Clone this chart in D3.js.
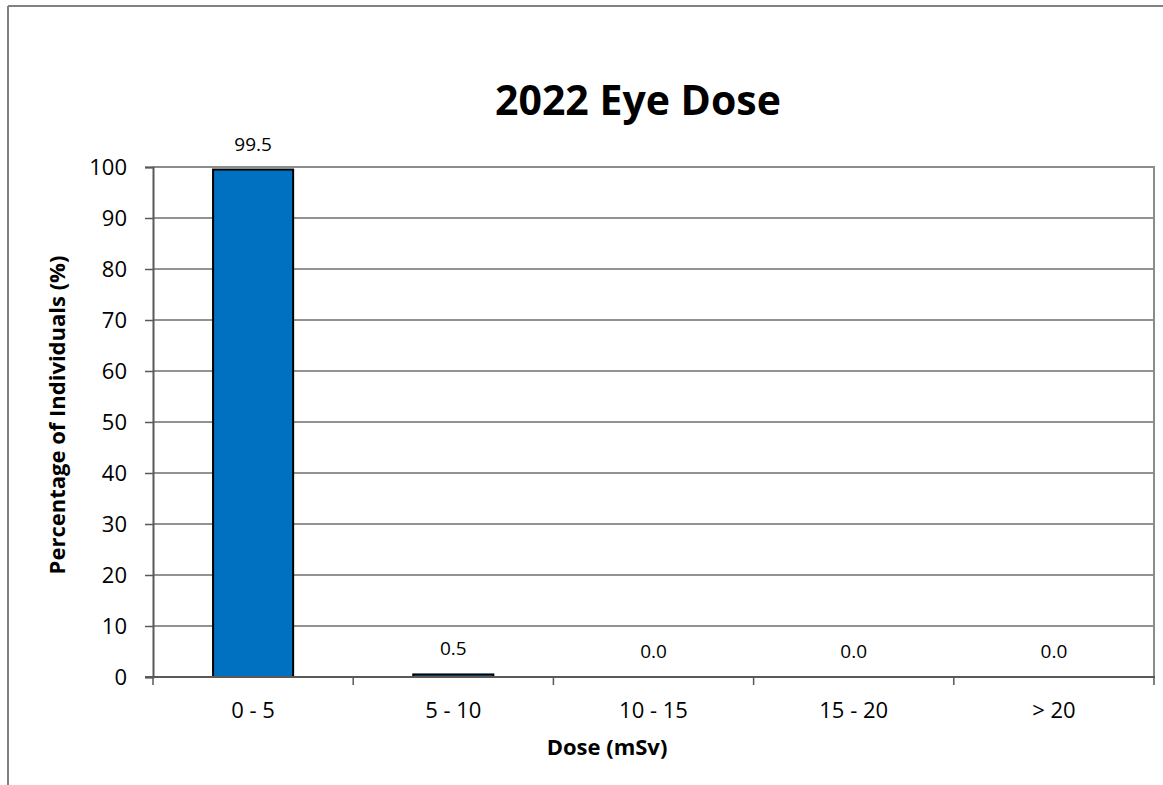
<!DOCTYPE html>
<html>
<head>
<meta charset="utf-8">
<script src="https://cdn.jsdelivr.net/npm/d3@7"></script>
<style>
  body { margin: 0; background: #fff; }
  text { font-family: "Open Sans", sans-serif; fill: #000; }
</style>
</head>
<body>
<svg width="1163" height="785"></svg>
<script>
var svg = d3.select("svg");

var categories = ["0 - 5", "5 - 10", "10 - 15", "15 - 20", "> 20"];
var percentages = [99.5, 0.5, 0.0, 0.0, 0.0];
var yTicks = [0, 10, 20, 30, 40, 50, 60, 70, 80, 90, 100];

// plot area
var margin = {top: 167, right: 9, bottom: 108, left: 153},
    width = +svg.attr("width") - margin.left - margin.right,
    height = +svg.attr("height") - margin.top - margin.bottom;

// outer chart frame (top + left edges only visible)
svg.append("line")
  .attr("x1", 8).attr("x2", 1163).attr("y1", 6).attr("y2", 6)
  .attr("stroke", "#595959").attr("stroke-width", 1.5);
svg.append("line")
  .attr("x1", 8).attr("x2", 8).attr("y1", 6).attr("y2", 785)
  .attr("stroke", "#808080").attr("stroke-width", 2);

var g = svg.append("g")
  .attr("transform", "translate(" + margin.left + "," + margin.top + ")");

var x = d3.scaleBand().domain(categories).range([0, width]).paddingInner(0.6).paddingOuter(0.3);
var xb = d3.scaleBand().domain(categories).range([0, width]);
var y = d3.scaleLinear().domain([0, 100]).range([height, 0]);

// gridlines
g.selectAll(".grid")
  .data(yTicks.slice(1, -1))
  .enter().append("line")
  .attr("class", "grid")
  .attr("x1", 0).attr("x2", width)
  .attr("y1", function(d) { return y(d); })
  .attr("y2", function(d) { return y(d); })
  .attr("stroke", "#262626").attr("stroke-width", 1);

// plot frame top + right
g.append("line").attr("x1", 0).attr("x2", width + 1).attr("y1", 0).attr("y2", 0)
  .attr("stroke", "#8c8c8c").attr("stroke-width", 2);
g.append("line").attr("x1", width).attr("x2", width).attr("y1", 0).attr("y2", height)
  .attr("stroke", "#8c8c8c").attr("stroke-width", 2);

// bars
g.selectAll(".bar")
  .data(percentages)
  .enter().append("rect")
  .attr("class", "bar")
  .attr("x", function(d, i) { return x(categories[i]); })
  .attr("width", x.bandwidth())
  .attr("y", function(d) { return y(d); })
  .attr("height", function(d) { return height - y(d); })
  .attr("fill", "#0070C0")
  .attr("stroke", "#000").attr("stroke-width", 2);

// value labels
g.selectAll(".lbl")
  .data(percentages)
  .enter().append("text")
  .attr("class", "lbl")
  .attr("x", function(d, i) { return x(categories[i]) + x.bandwidth() / 2; })
  .attr("y", function(d) { return y(d) - 19; })
  .attr("text-anchor", "middle")
  .style("font-size", "19px")
  .text(function(d) { return d.toFixed(1); });

// y axis
var yAxis = g.append("g")
  .call(d3.axisLeft(y).tickValues(yTicks).tickSize(8).tickPadding(18));
yAxis.select(".domain").attr("stroke", "#595959").attr("stroke-width", 2);
yAxis.selectAll(".tick line").attr("stroke", "#595959").attr("stroke-width", 1.5);
yAxis.selectAll(".tick text").style("font-size", "22px").style("font-family", "Open Sans");

// x axis
var xAxisG = g.append("g").attr("transform", "translate(0," + height + ")");
xAxisG.append("line").attr("x1", -8).attr("x2", width + 1).attr("y1", 0).attr("y2", 0)
  .attr("stroke", "#595959").attr("stroke-width", 2);
xAxisG.selectAll(".xtick")
  .data(categories.concat(["end"]))
  .enter().append("line")
  .attr("x1", function(d, i) { return i * xb.bandwidth(); })
  .attr("x2", function(d, i) { return i * xb.bandwidth(); })
  .attr("y1", 0).attr("y2", 8)
  .attr("stroke", "#595959").attr("stroke-width", 1.5);
xAxisG.selectAll(".xlab")
  .data(categories)
  .enter().append("text")
  .attr("x", function(d) { return xb(d) + xb.bandwidth() / 2; })
  .attr("y", 41)
  .attr("text-anchor", "middle")
  .style("font-size", "22px")
  .text(function(d) { return d; });

// titles
svg.append("text")
  .attr("x", 638).attr("y", 115)
  .attr("text-anchor", "middle")
  .style("font-size", "41px").style("font-weight", "bold")
  .text("2022 Eye Dose");

svg.append("text")
  .attr("x", 607).attr("y", 755)
  .attr("text-anchor", "middle")
  .style("font-size", "22px").style("font-weight", "bold")
  .text("Dose (mSv)");

svg.append("text")
  .attr("transform", "translate(65,415) rotate(-90)")
  .attr("text-anchor", "middle")
  .style("font-size", "22px").style("font-weight", "bold")
  .text("Percentage of Individuals (%)");
</script>
</body>
</html>
